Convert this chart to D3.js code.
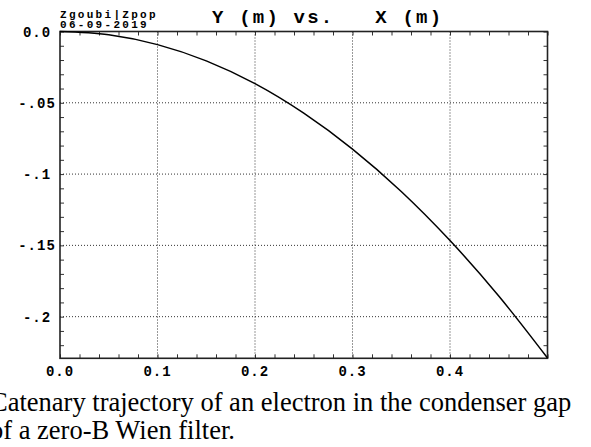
<!DOCTYPE html>
<html><head><meta charset="utf-8">
<script src="https://cdn.jsdelivr.net/npm/d3@7"></script>
<style>
html,body{margin:0;padding:0;background:#fff;}svg{display:block;}
.mono{font-family:"Liberation Mono","Courier New",Courier,"DejaVu Sans Mono",monospace;font-weight:bold;}
.cap{font-family:"Liberation Serif","Times New Roman",Times,"DejaVu Serif",serif;}
</style>
</head><body>
<svg id="c" width="591" height="447"></svg>
<script>
const xValues = [0, 0.05, 0.1, 0.15, 0.2, 0.25, 0.3, 0.35, 0.4, 0.45, 0.5];
const yValues = [0, -0.0023, -0.0092, -0.0206, -0.0366, -0.0573, -0.0825, -0.1122, -0.1466, -0.1855, -0.229];
const xTickValues = [0, 0.1, 0.2, 0.3, 0.4];
const xTickLabels = ["0.0", "0.1", "0.2", "0.3", "0.4"];
const yTickValues = [0, -0.05, -0.1, -0.15, -0.2];
const yTickLabels = ["0.0", "-.05", "-.1", "-.15", "-.2"];
const titleText = "Y (m) vs.   X (m)";
const stampLines = ["Zgoubi|Zpop", "06-09-2019"];
const captionLines = ["Catenary trajectory of an electron in the condenser gap", "of a zero-B Wien filter."];

const svg = d3.select("#c");
const L = 60, R = 547.5, T = 31.5, B = 358.3;
const x = d3.scaleLinear().domain([0, 0.5]).range([L, R]);
const y = d3.scaleLinear().domain([0, -0.2292]).range([T, B]);

// grid
const g = svg.append("g");
g.selectAll("line.gx").data(xTickValues.filter(v => v > 0)).enter().append("line")
  .attr("x1", d => x(d)).attr("x2", d => x(d)).attr("y1", T).attr("y2", B)
  .attr("stroke", "#333").attr("stroke-width", 1).attr("stroke-dasharray", "1,2");
g.selectAll("line.gy").data(yTickValues.filter(v => v < 0)).enter().append("line")
  .attr("y1", d => y(d)).attr("y2", d => y(d)).attr("x1", L).attr("x2", R)
  .attr("stroke", "#333").attr("stroke-width", 1).attr("stroke-dasharray", "1,2");

// minor ticks via axes
const xMinor = d3.range(0, 0.5001, 0.02);
const yMinor = d3.range(0, -0.2292, -0.01);
function styleTicks(s) { s.select(".domain").remove(); s.selectAll("line").attr("stroke", "#333"); }
svg.append("g").attr("transform", `translate(0,${B})`)
  .call(d3.axisTop(x).tickValues(xMinor).tickSize(4).tickFormat("")).call(styleTicks);
svg.append("g").attr("transform", `translate(0,${T})`)
  .call(d3.axisBottom(x).tickValues(xMinor).tickSize(4).tickFormat("")).call(styleTicks);
svg.append("g").attr("transform", `translate(${L},0)`)
  .call(d3.axisRight(y).tickValues(yMinor).tickSize(4).tickFormat("")).call(styleTicks);
svg.append("g").attr("transform", `translate(${R},0)`)
  .call(d3.axisLeft(y).tickValues(yMinor).tickSize(4).tickFormat("")).call(styleTicks);

// frame
svg.append("rect").attr("x", L).attr("y", T).attr("width", R - L).attr("height", B - T)
  .attr("fill", "none").attr("stroke", "#222").attr("stroke-width", 1.6);

// tick labels
svg.selectAll("text.xl").data(xTickValues).enter().append("text")
  .attr("class", "mono")
  .attr("x", (d) => x(d)).attr("y", 375.5)
  .attr("text-anchor", "middle").attr("font-size", 14).attr("letter-spacing", 1)
  .text((d, i) => xTickLabels[i]);
svg.selectAll("text.yl").data(yTickValues).enter().append("text")
  .attr("class", "mono")
  .attr("x", 37).attr("y", d => y(d) + 5)
  .attr("text-anchor", "middle").attr("font-size", 14).attr("letter-spacing", 1)
  .text((d, i) => yTickLabels[i]);

// curve
const pts = xValues.map((v, i) => [v, yValues[i]]);
svg.append("path").datum(pts)
  .attr("d", d3.line().x(d => x(d[0])).y(d => y(d[1])).curve(d3.curveMonotoneX))
  .attr("fill", "none").attr("stroke", "#000").attr("stroke-width", 1.5);

// title and stamp
svg.append("text").attr("class", "mono").attr("x", 212).attr("y", 23)
  .attr("font-size", 19).attr("letter-spacing", 2.2).style("white-space", "pre")
  .text(titleText);
stampLines.forEach((t, i) => {
  svg.append("text").attr("class", "mono").attr("x", 60).attr("y", 18 + i * 9.5)
    .attr("font-size", 11).attr("letter-spacing", 2.3).text(t);
});

// caption
captionLines.forEach((t, i) => {
  svg.append("text").attr("class", "cap").attr("x", -10).attr("y", 411 + i * 28)
    .attr("font-size", 26.5).attr("fill", "#000").text(t);
});
</script>
</body></html>
